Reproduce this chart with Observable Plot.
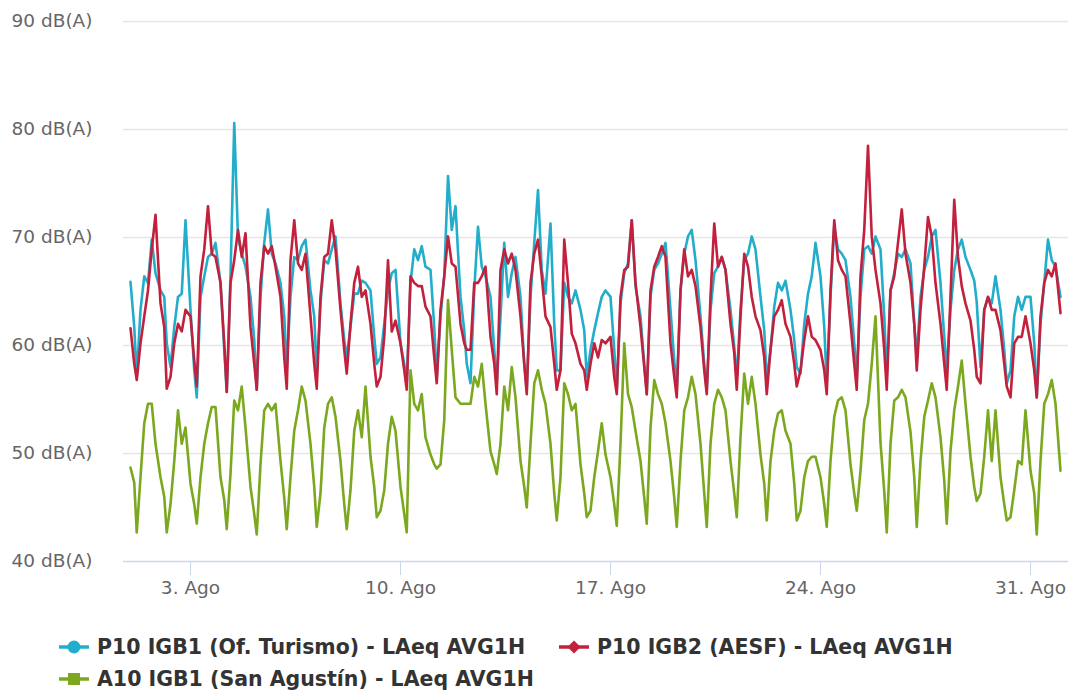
<!DOCTYPE html>
<html>
<head>
<meta charset="utf-8">
<script src="https://cdn.jsdelivr.net/npm/d3@7"></script>
<script src="https://cdn.jsdelivr.net/npm/@observablehq/plot@0.6"></script>
<style>
  body { margin: 0; background: #fff; font-family: "DejaVu Sans", sans-serif; }
  #wrap { position: relative; width: 1070px; height: 690px; overflow: hidden; }
  .leg { position: absolute; height: 26px; display: flex; align-items: center; font-weight: bold; font-size: 20.5px; color: #333; white-space: nowrap; }
  .leg svg { margin-right: 8px; }
</style>
</head>
<body>
<div id="wrap"></div>
<script>
// ---- data (hourly LAeq sampled at these hours of each day, August) ----
const YEAR = 2019;
const SAMPLE_HOURS = [0, 3, 5, 8, 11, 14, 17, 20];
const Y_TICKS = [40, 50, 60, 70, 80, 90];
const X_TICK_DAYS = [3, 10, 17, 24, 31];
const X_TICK_LABELS = ["3. Ago", "10. Ago", "17. Ago", "24. Ago", "31. Ago"];
const SERIES_NAMES = [
  "P10 IGB1 (Of. Turismo) - LAeq AVG1H",
  "P10 IGB2 (AESF) - LAeq AVG1H",
  "A10 IGB1 (San Agustín) - LAeq AVG1H"
];
const SERIES_COLORS = ["#22aecb", "#c2203c", "#7ba81e"];

// P10 IGB1 (Of. Turismo)
const turismo = [
  65.9, 61.7, 57.1, 63.3, 66.4, 65.8, 69.8, 66.7,
  65.1, 64.5, 60.2, 58.0, 61.7, 64.5, 64.8, 71.6,
  63.3, 57.7, 55.2, 64.5, 66.4, 68.2, 68.5, 69.5,
  65.8, 59.6, 55.7, 66.4, 80.6, 70.0, 68.5, 67.3,
  64.5, 60.5, 55.9, 64.5, 69.5, 72.6, 68.5, 67.6,
  65.8, 62.7, 58.0, 64.5, 68.2, 67.9, 69.2, 69.8,
  65.1, 62.7, 57.4, 63.9, 67.9, 67.6, 68.9, 70.1,
  63.9, 60.5, 58.9, 61.7, 64.8, 64.8, 66.0, 65.8,
  65.1, 60.8, 58.3, 58.9, 62.0, 65.1, 66.7, 67.0,
  60.2, 58.3, 56.5, 65.8, 68.9, 67.9, 69.2, 67.3,
  67.0, 61.7, 57.1, 62.7, 66.4, 75.7, 70.7, 72.9,
  64.5, 61.4, 58.3, 56.5, 65.1, 71.0, 67.3, 66.4,
  64.5, 59.6, 56.5, 62.7, 69.5, 64.5, 66.7, 68.2,
  64.5, 58.3, 55.9, 64.5, 69.5, 74.4, 67.0, 64.8,
  71.3, 62.0, 57.7, 57.7, 65.8, 64.5, 63.9, 65.1,
  63.3, 61.4, 57.1, 59.6, 61.4, 63.0, 64.5, 65.1,
  64.5, 59.6, 55.8, 63.9, 66.7, 67.6, 71.6, 65.5,
  62.7, 58.3, 55.5, 64.5, 67.0, 67.6, 68.5, 69.5,
  63.3, 58.6, 55.9, 65.1, 68.5, 70.1, 70.7, 67.9,
  62.7, 58.3, 55.8, 63.3, 66.7, 67.3, 68.2, 67.0,
  63.3, 59.9, 56.8, 63.3, 67.9, 68.5, 70.1, 68.9,
  64.5, 61.4, 56.8, 59.6, 63.6, 65.8, 65.1, 66.0,
  63.3, 60.5, 58.0, 57.4, 62.0, 64.8, 66.4, 69.5,
  66.4, 61.7, 56.5, 64.5, 71.0, 68.9, 68.5, 67.9,
  64.5, 60.2, 57.1, 64.5, 68.9, 69.2, 68.5, 70.1,
  68.9, 62.7, 57.1, 65.1, 66.7, 68.5, 68.2, 68.9,
  67.6, 62.0, 58.9, 64.5, 67.0, 68.2, 70.1, 70.7,
  65.8, 60.8, 57.7, 63.3, 67.0, 68.9, 69.8, 68.2,
  67.0, 66.0, 64.0, 58.0, 63.3, 64.5, 63.9, 66.4,
  63.3, 59.6, 56.5, 57.7, 62.7, 64.5, 63.3, 64.5,
  64.5, 60.2, 55.2, 62.0, 65.8, 69.8, 67.9, 67.3,
  64.5
];

// P10 IGB2 (AESF)
const aesf = [
  61.6, 58.3, 56.8, 60.2, 62.7, 65.1, 68.9, 72.1,
  63.9, 61.7, 56.0, 57.1, 60.2, 62.0, 61.3, 63.3,
  62.7, 58.6, 56.2, 66.4, 68.9, 72.9, 68.5, 68.2,
  65.8, 60.2, 55.7, 65.8, 67.9, 70.7, 68.2, 70.4,
  61.7, 58.3, 55.9, 65.8, 69.2, 68.5, 69.2, 67.3,
  64.5, 58.9, 56.0, 67.9, 71.6, 67.6, 67.0, 68.5,
  62.7, 58.3, 56.0, 64.5, 68.2, 68.5, 71.6, 68.9,
  63.3, 59.6, 57.4, 62.0, 65.8, 67.3, 64.5, 65.1,
  62.0, 58.3, 56.2, 57.1, 60.8, 67.9, 61.3, 62.3,
  60.2, 57.7, 55.9, 66.4, 65.8, 65.5, 65.5, 63.6,
  62.7, 58.9, 56.5, 63.3, 66.4, 70.1, 67.6, 67.3,
  62.0, 60.2, 59.6, 59.6, 65.8, 65.8, 66.4, 67.3,
  60.8, 58.3, 55.5, 67.0, 68.9, 67.6, 68.5, 67.0,
  62.7, 58.3, 55.5, 65.8, 68.5, 69.8, 66.4, 62.7,
  61.7, 58.3, 55.9, 57.7, 69.8, 65.8, 61.1, 60.2,
  58.3, 57.7, 55.9, 58.3, 60.2, 58.9, 60.5, 60.2,
  60.8, 57.1, 55.5, 64.5, 67.0, 67.3, 71.6, 65.8,
  61.7, 58.0, 55.5, 65.1, 67.3, 68.2, 69.2, 68.2,
  60.2, 57.1, 55.2, 65.1, 68.9, 66.4, 67.0, 65.5,
  61.7, 57.7, 55.5, 64.5, 71.3, 67.3, 68.2, 67.0,
  62.0, 59.3, 55.9, 62.7, 68.5, 67.3, 64.5, 62.7,
  61.4, 58.9, 55.5, 59.6, 62.7, 63.3, 64.2, 62.0,
  60.8, 58.3, 56.2, 57.7, 60.5, 62.7, 60.8, 60.5,
  59.6, 57.7, 55.5, 65.1, 71.6, 67.9, 67.0, 66.4,
  62.0, 58.3, 55.9, 66.4, 70.7, 78.5, 70.1, 67.0,
  63.9, 59.6, 55.9, 65.1, 66.4, 69.5, 72.6, 68.5,
  65.8, 62.0, 57.7, 63.3, 67.3, 71.9, 70.1, 65.8,
  62.0, 58.3, 55.9, 64.5, 73.5, 68.2, 65.5, 63.9,
  62.3, 59.6, 57.1, 56.5, 63.3, 64.5, 63.3, 63.3,
  61.4, 58.3, 56.2, 55.2, 60.2, 60.8, 60.8, 62.7,
  60.2, 57.7, 55.2, 62.7, 65.8, 67.0, 66.4, 67.6,
  63.0
];

// A10 IGB1 (San Agustín)
const sanAgustin = [
  48.7, 47.3, 42.7, 47.8, 52.8, 54.6, 54.6, 50.9,
  47.8, 46.0, 42.7, 45.3, 49.3, 54.0, 50.9, 52.4,
  47.2, 45.3, 43.5, 47.8, 50.9, 52.8, 54.3, 54.3,
  47.8, 45.7, 43.0, 48.1, 54.9, 54.0, 56.2, 52.4,
  46.9, 44.4, 42.5, 49.0, 54.0, 54.6, 54.0, 54.6,
  49.3, 45.9, 43.0, 47.8, 52.1, 54.0, 56.2, 54.9,
  50.9, 46.9, 43.2, 46.3, 52.4, 54.6, 55.2, 53.4,
  49.3, 45.3, 43.0, 46.6, 52.1, 54.0, 51.5, 56.2,
  49.7, 46.9, 44.1, 44.7, 46.6, 50.9, 53.4, 52.1,
  46.9, 44.4, 42.7, 57.7, 54.6, 54.0, 55.5, 51.5,
  49.9, 49.0, 48.6, 49.0, 53.1, 64.2, 59.6, 55.2,
  54.6, 54.6, 54.6, 54.6, 57.1, 56.2, 58.3, 54.6,
  50.2, 49.0, 48.1, 50.9, 56.2, 54.0, 58.0, 55.2,
  49.3, 46.9, 45.0, 50.9, 56.5, 57.7, 55.9, 54.6,
  50.9, 46.3, 43.8, 47.8, 56.5, 55.5, 54.0, 54.6,
  49.0, 46.3, 44.1, 44.7, 47.8, 50.2, 52.8, 49.9,
  47.8, 45.3, 43.3, 50.9, 60.2, 55.5, 54.3, 52.1,
  49.3, 45.9, 43.5, 52.4, 56.8, 55.5, 54.6, 52.8,
  49.3, 45.9, 43.2, 49.3, 54.0, 55.2, 57.1, 55.5,
  50.9, 46.3, 43.2, 50.9, 54.6, 55.9, 55.2, 54.0,
  49.3, 46.3, 44.1, 51.5, 57.4, 54.6, 57.1, 54.6,
  49.9, 47.2, 43.8, 49.3, 52.1, 53.7, 54.0, 52.1,
  50.9, 47.2, 43.8, 44.7, 47.8, 49.3, 49.7, 49.7,
  47.8, 45.3, 43.2, 49.3, 53.4, 54.9, 55.2, 54.0,
  49.0, 46.3, 44.7, 48.4, 53.1, 54.6, 58.3, 62.7,
  51.0, 46.5, 42.7, 50.9, 54.9, 55.2, 55.9, 55.2,
  52.0, 47.8, 43.2, 49.3, 53.4, 54.9, 56.5, 55.2,
  51.5, 47.5, 43.5, 50.2, 54.0, 56.2, 58.6, 54.6,
  49.7, 46.9, 45.6, 46.3, 49.7, 54.0, 49.3, 54.0,
  47.8, 45.3, 43.8, 44.1, 46.6, 49.3, 49.0, 54.0,
  48.4, 46.3, 42.5, 49.3, 54.6, 55.5, 56.8, 54.6,
  48.4
];

// ---- build table ----
const DAY = 864e5, HOUR = 36e5;
const START = Date.UTC(YEAR, 7, 1);
function sampleTime(i) {
  const n = SAMPLE_HOURS.length;
  return new Date(START + Math.floor(i / n) * DAY + SAMPLE_HOURS[i % n] * HOUR);
}
const rows = [];
[turismo, aesf, sanAgustin].forEach((vals, k) => {
  vals.forEach((v, i) => rows.push({ t: sampleTime(i), v, s: SERIES_NAMES[k] }));
});
const xTicks = X_TICK_DAYS.map(d => new Date(Date.UTC(YEAR, 7, d)));
const tickLabel = d => X_TICK_LABELS[X_TICK_DAYS.indexOf(d.getUTCDate())];

const chart = Plot.plot({
  width: 1070,
  height: 610,
  marginLeft: 123,
  marginRight: 2,
  marginTop: 21,
  marginBottom: 49,
  style: { fontFamily: '"DejaVu Sans", sans-serif', fontSize: "18.5px", color: "#666", background: "#fff", overflow: "visible" },
  x: { type: "utc", domain: [new Date(START - 0.2333 * DAY), new Date(START + 31.2667 * DAY)], label: null },
  y: { domain: [40, 90], label: null },
  color: { domain: SERIES_NAMES, range: SERIES_COLORS },
  marks: [
    Plot.ruleY(Y_TICKS.slice(1), { stroke: "#e6e6e6", strokeWidth: 1.4 }),
    Plot.ruleY([Y_TICKS[0]], { stroke: "#ccd6eb", strokeWidth: 1.5 }),
    Plot.axisY({ ticks: Y_TICKS, tickFormat: d => `${d} dB(A)`, tickSize: 0, tickPadding: 31, fill: "#666", fontSize: 18.5, label: null }),
    Plot.axisX({ ticks: xTicks, tickFormat: tickLabel, tickSize: 14, tickPadding: 5, stroke: "#ccd6eb", fill: "#666", fontSize: 18.5, label: null }),
    Plot.lineY(rows, { x: "t", y: "v", z: "s", stroke: "s", strokeWidth: 2.6, strokeLinejoin: "round", strokeLinecap: "round" })
  ]
});
const wrap = document.getElementById("wrap");
wrap.appendChild(chart);

// ---- legend ----
const legendPos = [
  { left: 59, top: 634 },
  { left: 559, top: 634 },
  { left: 59, top: 666 }
];
const markers = [
  c => `<circle cx="15" cy="13" r="6.5" fill="${c}"/>`,
  c => `<path d="M15 6.5 L21.5 13 L15 19.5 L8.5 13 Z" fill="${c}"/>`,
  c => `<rect x="9" y="7" width="12" height="12" fill="${c}"/>`
];
SERIES_NAMES.forEach((name, k) => {
  const c = SERIES_COLORS[k];
  const div = document.createElement("div");
  div.className = "leg";
  div.style.left = legendPos[k].left + "px";
  div.style.top = legendPos[k].top + "px";
  div.innerHTML = `<svg width="30" height="26"><line x1="0" y1="13" x2="30" y2="13" stroke="${c}" stroke-width="3.5"/>${markers[k](c)}</svg><span>${name}</span>`;
  wrap.appendChild(div);
});
</script>
</body>
</html>
